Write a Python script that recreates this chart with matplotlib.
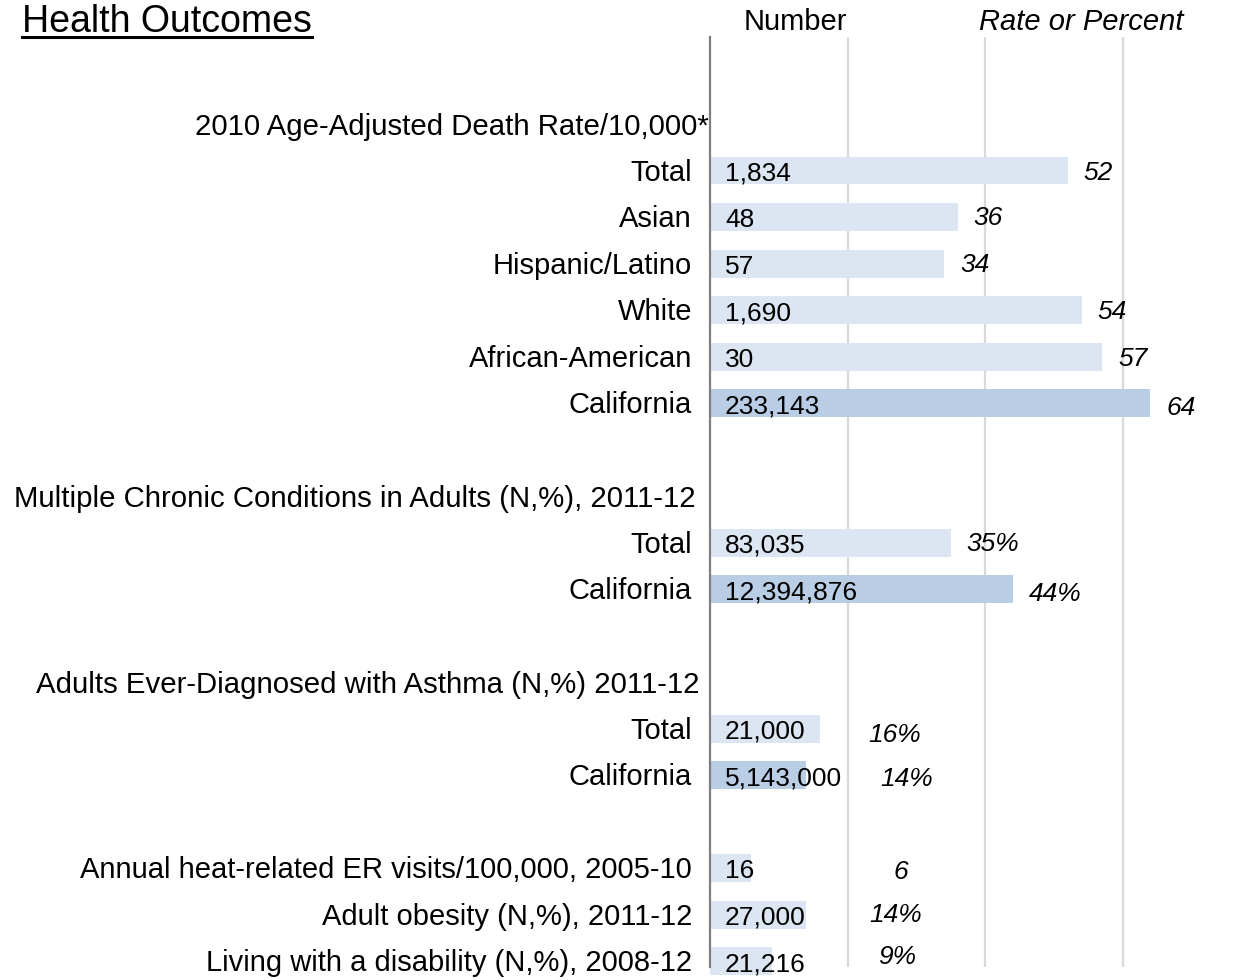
import numpy as np
import matplotlib.pyplot as plt
from matplotlib.lines import Line2D

plt.rcParams['font.family'] = ['Liberation Sans', 'DejaVu Sans']

# ---- data ----
death_title   = '2010 Age-Adjusted Death Rate/10,000*'
death_labels  = ['Total', 'Asian', 'Hispanic/Latino', 'White', 'African-American', 'California']
death_numbers = [1834, 48, 57, 1690, 30, 233143]
death_rates   = [52, 36, 34, 54, 57, 64]

chronic_title   = 'Multiple Chronic Conditions in Adults (N,%), 2011-12'
chronic_labels  = ['Total', 'California']
chronic_numbers = [83035, 12394876]
chronic_pct     = [35, 44]

asthma_title   = 'Adults Ever-Diagnosed with Asthma (N,%) 2011-12'
asthma_labels  = ['Total', 'California']
asthma_numbers = [21000, 5143000]
asthma_pct     = [16, 14]

other_labels  = ['Annual heat-related ER visits/100,000, 2005-10',
                 'Adult obesity (N,%), 2011-12',
                 'Living with a disability (N,%), 2008-12']
other_numbers = [16, 27000, 21216]
other_rates   = [6, 14, 9]
other_is_pct  = [False, True, True]

# ---- assemble rows (row 0 is blank space under the column headers) ----
rows = []      # (y, label, number, rate_value, rate_text, is_state)
headers = []   # (y, text)
y = 1
for title, labels, nums, vals, pct in [
        (death_title, death_labels, death_numbers, death_rates, False),
        (chronic_title, chronic_labels, chronic_numbers, chronic_pct, True),
        (asthma_title, asthma_labels, asthma_numbers, asthma_pct, True)]:
    headers.append((y, title))
    y += 1
    for lab, n, v in zip(labels, nums, vals):
        rows.append((y, lab, n, v, f'{v}%' if pct else f'{v}', lab == 'California'))
        y += 1
    y += 1
for lab, n, v, p in zip(other_labels, other_numbers, other_rates, other_is_pct):
    rows.append((y, lab, n, v, f'{v}%' if p else f'{v}', False))
    y += 1

# per-row placement of the italic rate labels (pixels right of bar end, pixels down)
rate_pad = [16, 16, 16, 16, 16, 16, 16, 16, 48, 74, 142, 63, 106]
rate_dy  = [2, 1, 1, 2, 2, 5, 1, 5, 6, 4, 4, 0, -4]
header_pad = [1, 14, 10]

LIGHT = '#DCE6F2'
DARK  = '#B9CDE5'
PT = 0.72  # points per pixel at 100 dpi

fig = plt.figure(figsize=(12.41, 9.80), dpi=100)
ax = fig.add_axes([710 / 1241, 1 - 967 / 980, 531 / 1241, 930 / 980])

ys     = [r[0] for r in rows]
values = [r[3] for r in rows]
colors = [DARK if r[5] else LIGHT for r in rows]
ax.barh(ys, values, height=0.6, color=colors, zorder=2, clip_on=False)

for (yy, lab, n, v, rt, st), pad, dy in zip(rows, rate_pad, rate_dy):
    ax.annotate(f'{n:,}', (0, yy), xytext=(15 * PT, -3 * PT), textcoords='offset points',
                ha='left', va='center', fontsize=19, zorder=3)
    ax.annotate(rt, (v, yy), xytext=(pad * PT, -dy * PT), textcoords='offset points',
                ha='left', va='center', fontsize=19, style='italic', zorder=3)
    ax.annotate(lab, (0, yy), xytext=(-18 * PT, -2 * PT), textcoords='offset points',
                ha='right', va='center', fontsize=21, annotation_clip=False)

for (yy, txt), pad in zip(headers, header_pad):
    ax.annotate(txt, (0, yy), xytext=(-pad * PT, -3 * PT), textcoords='offset points',
                ha='right', va='center', fontsize=21.2, annotation_clip=False)

# ---- axes styling ----
ax.set_xlim(0, 531 / 6.88)
ax.set_ylim(19.12, -0.87)
ax.set_xticks([20, 40, 60])
ax.set_yticks([])
ax.tick_params(axis='x', length=0, labelbottom=False)
ax.grid(True, axis='x', color='#D9D9D9', linewidth=1.6, zorder=0)
ax.set_axisbelow(True)
for s in ['top', 'right', 'bottom']:
    ax.spines[s].set_visible(False)
ax.spines['left'].set_color('#7F7F7F')
ax.spines['left'].set_linewidth(1.6)

# ---- column headers & title ----
fig.text(795 / 1241, 1 - 22 / 980, 'Number', ha='center', va='center', fontsize=21)
fig.text(1081 / 1241, 1 - 22 / 980, 'Rate or Percent', ha='center', va='center',
         fontsize=21, style='italic')
title = fig.text(22 / 1241, 1 - 22 / 980, 'Health Outcomes', ha='left', va='center', fontsize=27)

fig.canvas.draw()
bb = title.get_window_extent()
fig.add_artist(Line2D([bb.x0 / 1241, bb.x1 / 1241], [1 - 37.5 / 980, 1 - 37.5 / 980],
                      transform=fig.transFigure, color='black', linewidth=2.2))

fig.savefig('out.png', dpi=100, facecolor='white')
